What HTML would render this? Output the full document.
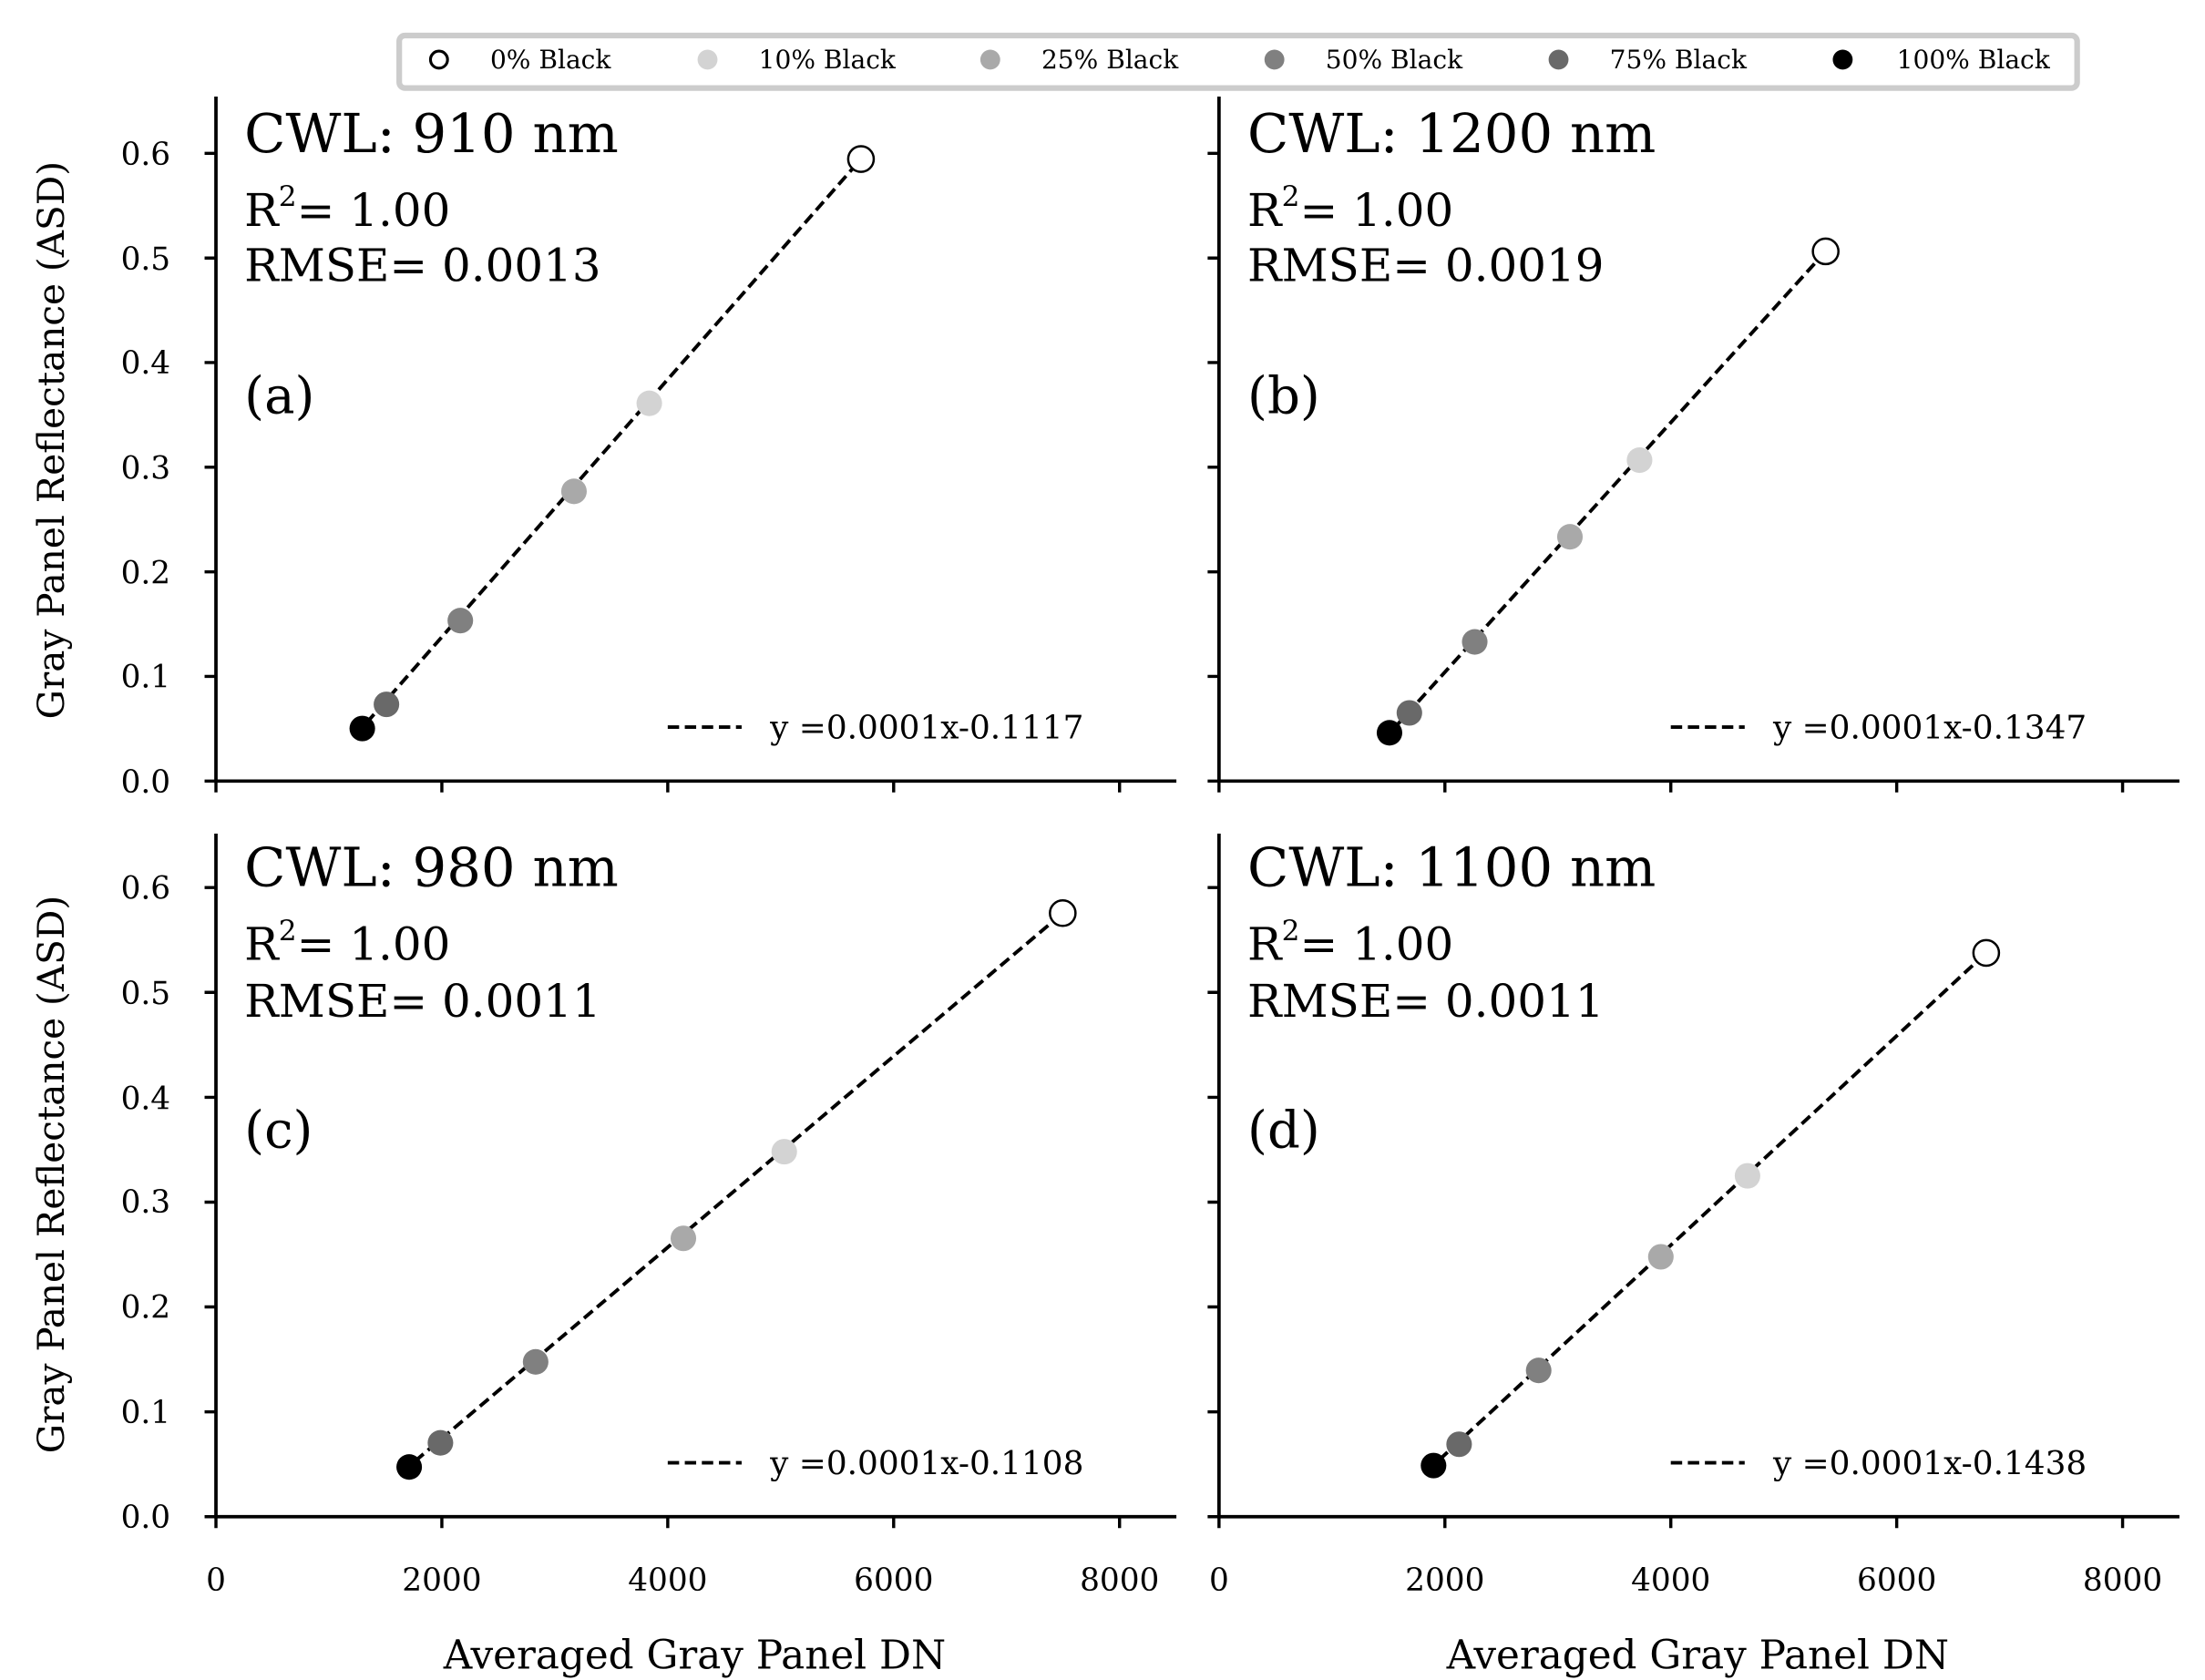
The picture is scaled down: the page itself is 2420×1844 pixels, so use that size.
<!DOCTYPE html>
<html><head><meta charset="utf-8"><style>html,body{margin:0;padding:0;background:#fff}svg{display:block}</style></head>
<body>
<svg width="2420" height="1844" viewBox="0 0 1552 1183" preserveAspectRatio="none" xmlns="http://www.w3.org/2000/svg" font-family="'DejaVu Serif','Liberation Serif',serif">
<rect width="1552" height="1183" fill="#fff"/>
<rect x="281" y="25" width="1181" height="37" rx="4" fill="#fff" stroke="#cccccc" stroke-width="4"/>
<g font-size="18" fill="#000">
<circle cx="309" cy="42" r="6" fill="#fff" stroke="#000" stroke-width="2"/><text x="345" y="48">0% Black</text>
<circle cx="498" cy="42" r="7" fill="#d3d3d3"/><text x="534" y="48">10% Black</text>
<circle cx="697" cy="42" r="7" fill="#a9a9a9"/><text x="733" y="48">25% Black</text>
<circle cx="897" cy="42" r="7" fill="#808080"/><text x="933" y="48">50% Black</text>
<circle cx="1097" cy="42" r="7" fill="#696969"/><text x="1133" y="48">75% Black</text>
<circle cx="1297" cy="42" r="7" fill="#000"/><text x="1335" y="48">100% Black</text>
</g>
<g stroke="#000" stroke-width="2.4" fill="none">
<path d="M152,68 V550 H828"/><path d="M858,68 V550 H1534"/>
<path d="M152,587 V1068 H828"/><path d="M858,587 V1068 H1534"/>
</g>
<g stroke="#000" stroke-width="2.2">
<path d="M152,550v8M311,550v8M470,550v8M629,550v8M788,550v8"/>
<path d="M858,550v8M1017,550v8M1176,550v8M1335,550v8M1494,550v8"/>
<path d="M152,1068v8M311,1068v8M470,1068v8M629,1068v8M788,1068v8"/>
<path d="M858,1068v8M1017,1068v8M1176,1068v8M1335,1068v8M1494,1068v8"/>
<path d="M152,550h-8M152,476.3h-8M152,402.7h-8M152,329h-8M152,255.3h-8M152,181.7h-8M152,108h-8"/>
<path d="M858,550h-8M858,476.3h-8M858,402.7h-8M858,329h-8M858,255.3h-8M858,181.7h-8M858,108h-8"/>
<path d="M152,1068h-8M152,994.2h-8M152,920.3h-8M152,846.5h-8M152,772.7h-8M152,698.8h-8M152,625h-8"/>
<path d="M858,1068h-8M858,994.2h-8M858,920.3h-8M858,846.5h-8M858,772.7h-8M858,698.8h-8M858,625h-8"/>
</g>
<g font-size="22" text-anchor="end">
<text x="120" y="558">0.0</text><text x="120" y="484">0.1</text><text x="120" y="411">0.2</text><text x="120" y="337">0.3</text><text x="120" y="263">0.4</text><text x="120" y="190">0.5</text><text x="120" y="116">0.6</text>
<text x="120" y="1076">0.0</text><text x="120" y="1002">0.1</text><text x="120" y="928">0.2</text><text x="120" y="854">0.3</text><text x="120" y="781">0.4</text><text x="120" y="707">0.5</text><text x="120" y="633">0.6</text>
</g>
<g font-size="22" text-anchor="middle">
<text x="152" y="1120">0</text><text x="311" y="1120">2000</text><text x="470" y="1120">4000</text><text x="629" y="1120">6000</text><text x="788" y="1120">8000</text>
<text x="858" y="1120">0</text><text x="1017" y="1120">2000</text><text x="1176" y="1120">4000</text><text x="1335" y="1120">6000</text><text x="1494" y="1120">8000</text>
<text x="489" y="1175" font-size="28">Averaged Gray Panel DN</text>
<text x="1195" y="1175" font-size="28">Averaged Gray Panel DN</text>
<text transform="translate(45,310) rotate(-90)" font-size="26">Gray Panel Reflectance (ASD)</text>
<text transform="translate(45,827) rotate(-90)" font-size="26">Gray Panel Reflectance (ASD)</text>
</g>
<g font-size="38">
<text x="172" y="107">CWL: 910 nm</text><text x="878" y="107">CWL: 1200 nm</text>
<text x="172" y="624">CWL: 980 nm</text><text x="878" y="624">CWL: 1100 nm</text>
<text x="172" y="291" font-size="36">(a)</text><text x="878" y="291" font-size="36">(b)</text>
<text x="172" y="808" font-size="36">(c)</text><text x="878" y="808" font-size="36">(d)</text>
</g>
<g font-size="32">
<text x="172" y="159">R<tspan font-size="20" dy="-14">2</tspan><tspan dy="14">= 1.00</tspan></text>
<text x="172" y="198">RMSE= 0.0013</text>
<text x="878" y="159">R<tspan font-size="20" dy="-14">2</tspan><tspan dy="14">= 1.00</tspan></text>
<text x="878" y="198">RMSE= 0.0019</text>
<text x="172" y="676">R<tspan font-size="20" dy="-14">2</tspan><tspan dy="14">= 1.00</tspan></text>
<text x="172" y="716">RMSE= 0.0011</text>
<text x="878" y="676">R<tspan font-size="20" dy="-14">2</tspan><tspan dy="14">= 1.00</tspan></text>
<text x="878" y="716">RMSE= 0.0011</text>
</g>
<g stroke="#000" stroke-width="2.5" stroke-dasharray="8,4" fill="none">
<path d="M470,512h52M1176,512h52M470,1030h52M1176,1030h52"/>
<path d="M258,509L606,112M982,512L1285,177M292,1029L748,643M1013,1028L1398,671"/>
</g>
<g font-size="23">
<text x="542" y="520">y =0.0001x-0.1117</text><text x="1248" y="520">y =0.0001x-0.1347</text>
<text x="542" y="1038">y =0.0001x-0.1108</text><text x="1248" y="1038">y =0.0001x-0.1438</text>
</g>
<g stroke="none">
<circle cx="457" cy="284" r="9" fill="#d3d3d3"/><circle cx="404" cy="346" r="9" fill="#a9a9a9"/><circle cx="324" cy="437" r="9" fill="#808080"/><circle cx="272" cy="496" r="9" fill="#696969"/><circle cx="255" cy="513" r="9" fill="#000"/>
<circle cx="1154" cy="324" r="9" fill="#d3d3d3"/><circle cx="1105" cy="378" r="9" fill="#a9a9a9"/><circle cx="1038" cy="452" r="9" fill="#808080"/><circle cx="992" cy="502" r="9" fill="#696969"/><circle cx="978" cy="516" r="9" fill="#000"/>
<circle cx="552" cy="811" r="9" fill="#d3d3d3"/><circle cx="481" cy="872" r="9" fill="#a9a9a9"/><circle cx="377" cy="959" r="9" fill="#808080"/><circle cx="310" cy="1016" r="9" fill="#696969"/><circle cx="288" cy="1033" r="9" fill="#000"/>
<circle cx="1230" cy="828" r="9" fill="#d3d3d3"/><circle cx="1169" cy="885" r="9" fill="#a9a9a9"/><circle cx="1083" cy="965" r="9" fill="#808080"/><circle cx="1027" cy="1017" r="9" fill="#696969"/><circle cx="1009" cy="1032" r="9" fill="#000"/>
</g>
<g fill="#fff" stroke="#000" stroke-width="1.6">
<circle cx="606" cy="112" r="9"/><circle cx="1285" cy="177" r="9"/><circle cx="748" cy="643" r="9"/><circle cx="1398" cy="671" r="9"/>
</g>
</svg>
</body></html>
